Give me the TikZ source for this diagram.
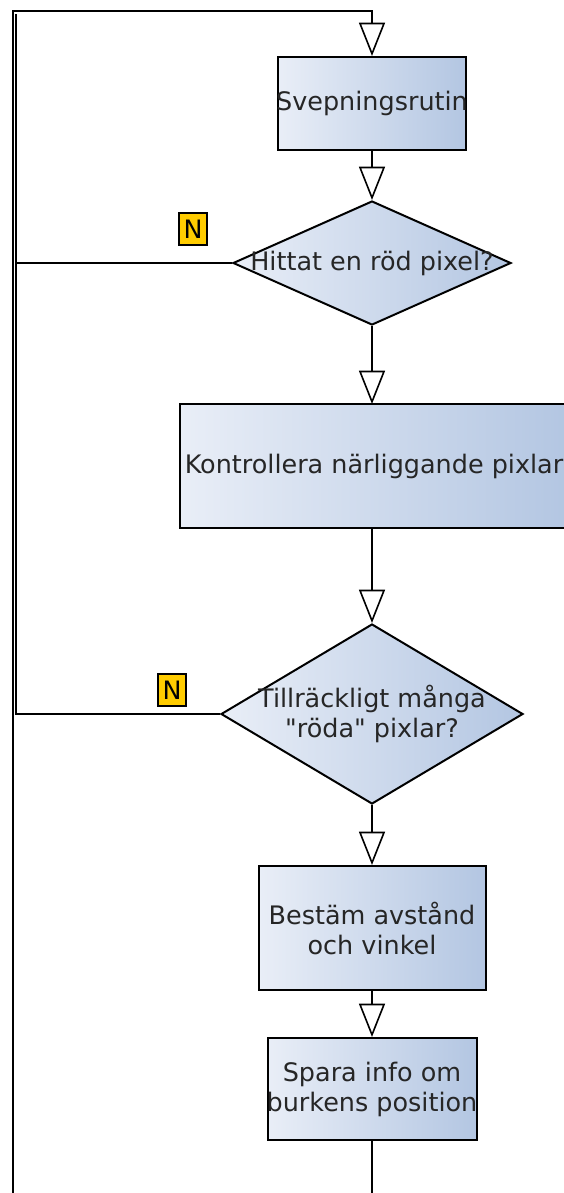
\documentclass[tikz,border=0pt]{standalone}
\usepackage{fontspec}
\setmainfont{DejaVu Sans}
\usetikzlibrary{shapes.geometric,arrows.meta}
\definecolor{boxlight}{HTML}{E9EEF7}
\definecolor{boxdark}{HTML}{B3C6E2}
\definecolor{nyellow}{HTML}{FFCC00}
% straight double quote, taken by glyph name so no ligature mapping applies
\newcommand\strq{\XeTeXglyph\XeTeXglyphindex "quotedbl"\relax}
\tikzset{
  flow/.style={draw=black, line width=1.5pt},
  tip/.style={-{Triangle[open, width=19.5pt, length=25pt, line width=1.2pt]}},
  proc/.style={draw=black, line width=1.5pt, rectangle, inner sep=0pt,
    left color=boxlight, right color=boxdark},
  decision/.style={draw=black, line width=1.5pt, diamond, inner sep=0pt,
    left color=boxlight, right color=boxdark},
  lbl/.style={font=\fontsize{19.1}{22.5}\selectfont, align=center, inner sep=0pt,
    text=black!85},
  nbox/.style={draw=black, line width=1.4pt, fill=nyellow, inner sep=0pt,
    minimum width=21pt, minimum height=24pt, font=\fontsize{19}{20}\selectfont}
}
\begin{document}
\begin{tikzpicture}[x=0.75pt, y=-0.75pt]
  \useasboundingbox (0,0) rectangle (564,1193);
  \clip (0,0) rectangle (564,1193);

  % process steps and decisions
  \node[proc, minimum width=141pt, minimum height=69.75pt,
        label={[lbl]center:Svepningsrutin}] (svep) at (372,103.5) {};
  \node[decision, minimum width=208.5pt, minimum height=93pt,
        label={[lbl]center:Hittat en röd pixel?}] (d1) at (372,263) {};
  \node[proc, minimum width=291pt, minimum height=93pt,
        label={[lbl]center:Kontrollera närliggande pixlar}] (kontr) at (374,466) {};
  \node[decision, minimum width=226.5pt, minimum height=135pt,
        label={[lbl]center:Tillräckligt många\\\strq röda\strq{} pixlar?}] (d2) at (372,714) {};
  \node[proc, minimum width=170.25pt, minimum height=93pt,
        label={[lbl]center:Bestäm avstånd\\och vinkel}] (best) at (372,928) {};
  \node[proc, minimum width=156.75pt, minimum height=76.5pt,
        label={[lbl]center:Spara info om\\burkens position}] (spara) at (372,1089) {};

  % "no" markers
  \node[nbox] (n1) at (193,229) {N};
  \node[nbox] (n2) at (172,690) {N};

  % loop-back helpers
  \coordinate (out) at (372,1215);
  \coordinate (bl) at (12.5,1215);
  \coordinate (tl) at (12.5,10.5);
  \coordinate (k1) at (15.5,13.5);

  % main flow
  \draw[flow, tip] (svep) -- (d1);
  \draw[flow, tip] (d1) -- (372,404);
  \draw[flow, tip] (372,528) -- (d2);
  \draw[flow, tip] (d2) -- (best);
  \draw[flow, tip] (best) -- (spara);
  \draw[flow] (spara.south) -- (out);

  % return paths to the top
  \draw[flow, tip] (bl) -- (tl) -| (svep.north);
  \draw[flow] (d1.west) -| (k1);
  \draw[flow] (d2.west) -| (k1);
\end{tikzpicture}
\end{document}
